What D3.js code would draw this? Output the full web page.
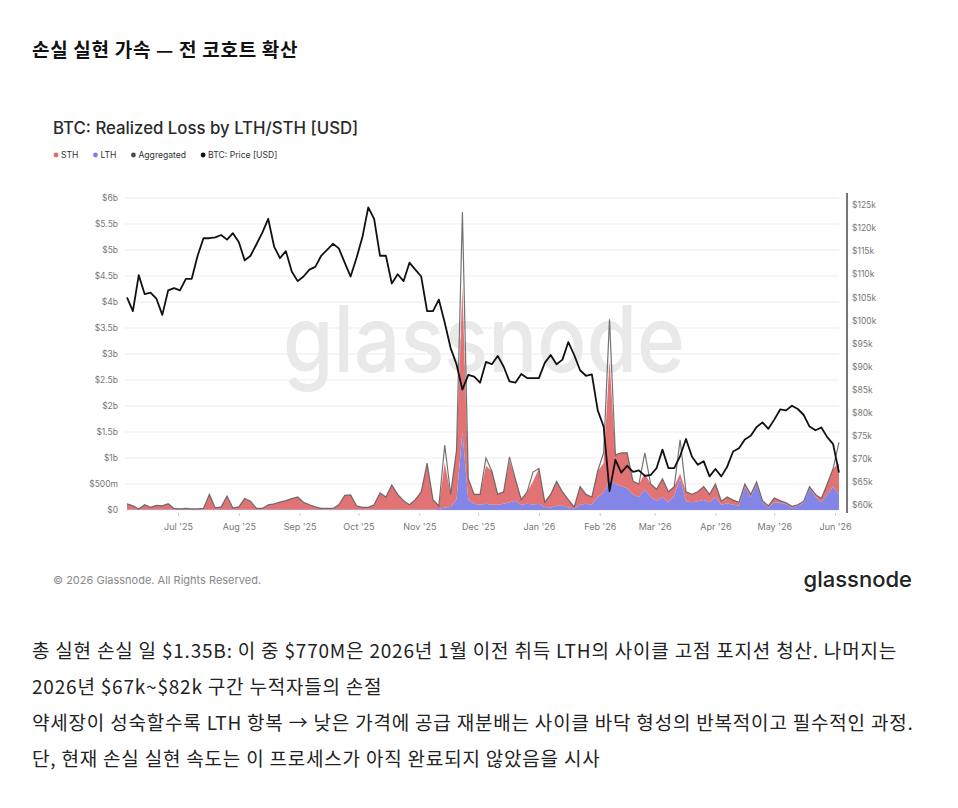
<!DOCTYPE html>
<html>
<head>
<meta charset="utf-8">
<script src="https://cdn.jsdelivr.net/npm/d3@7"></script>
<style>
  body { margin: 0; background: #fff; }
  svg text { font-family: Inter, "Noto Sans", sans-serif; }
  svg .kr { font-family: "Noto Sans CJK KR", sans-serif; }
</style>
</head>
<body>
<svg id="chart"></svg>
<script>
// ---- data ----
var startDay = "2025-06-05";   // first sample, one sample every 3 days
var stepDays = 3;

// BTC price, $k
var price = [105, 102, 109.8, 105.7, 106, 104.7, 101.2, 106.5, 107, 106.5,
  109, 109, 114, 117.8, 117.8, 118, 118.5, 117.5, 118.9, 117,
  113, 114, 116.5, 119, 122, 116, 113.5, 115, 110.6, 108.5,
  109.5, 111, 111.6, 114, 115.3, 116.6, 115.6, 112.5, 109.5, 113.5,
  118, 124.5, 122, 114, 114, 108, 110, 108.5, 112.5, 111,
  109.5, 102, 102, 104.5, 99.5, 94, 90.5, 85, 88.2, 87.8,
  86.5, 91, 90.5, 92.3, 90, 86.8, 86.5, 88.4, 87.5, 87.5,
  87.5, 90.8, 92.5, 90.5, 91.5, 95.3, 92.5, 89.2, 88, 88.3,
  80.5, 77, 63, 69.8, 67, 68.5, 67.2, 67.5, 66.3, 66.5,
  68, 72, 68, 68, 70.6, 74.3, 70.5, 68.7, 69.5, 66.2,
  67.8, 66.2, 68.3, 71.6, 72.3, 74.2, 75, 76.9, 77.9, 76.5,
  78.5, 80.7, 80.5, 81.5, 80.8, 79.5, 77, 76.2, 76.8, 74.7,
  73.2, 67];

// realized loss, $b
var lthLoss = [0.01, 0.01, 0.01, 0.01, 0.01, 0.01, 0.01, 0.01, 0.01, 0.01,
  0.01, 0.01, 0.01, 0.01, 0.01, 0.01, 0.01, 0.01, 0.01, 0.01,
  0.01, 0.01, 0.01, 0.01, 0.01, 0.01, 0.01, 0.01, 0.01, 0.01,
  0.01, 0.01, 0.01, 0.01, 0.01, 0.01, 0.01, 0.01, 0.01, 0.01,
  0.01, 0.01, 0.01, 0.01, 0.01, 0.01, 0.01, 0.01, 0.01, 0.01,
  0.01, 0.01, 0.01, 0.02, 0.05, 0.06, 0.2, 1.5, 0.2, 0.12,
  0.1, 0.12, 0.1, 0.1, 0.12, 0.15, 0.18, 0.1, 0.12, 0.1,
  0.12, 0.06, 0.05, 0.08, 0.08, 0.05, 0.03, 0.1, 0.12, 0.1,
  0.25, 0.33, 0.58, 0.5, 0.46, 0.42, 0.3, 0.25, 0.4, 0.25,
  0.18, 0.25, 0.15, 0.28, 0.6, 0.17, 0.15, 0.17, 0.19, 0.15,
  0.25, 0.1, 0.13, 0.1, 0.08, 0.45, 0.25, 0.5, 0.15, 0.05,
  0.15, 0.14, 0.11, 0.05, 0.08, 0.14, 0.42, 0.26, 0.15, 0.3,
  0.45, 0.3];

var sthLoss = [0.11, 0.07, 0.01, 0.09, 0.04, 0.08, 0.07, 0.11, 0.02, 0.01,
  0.02, 0.01, 0.01, 0.02, 0.29, 0.03, 0.05, 0.26, 0.03, 0.05,
  0.21, 0.16, 0.02, 0.02, 0.09, 0.11, 0.14, 0.17, 0.21, 0.24,
  0.14, 0.09, 0.05, 0.02, 0.02, 0.02, 0.09, 0.27, 0.28, 0.07,
  0.04, 0.04, 0.09, 0.32, 0.24, 0.47, 0.29, 0.17, 0.09, 0.19,
  0.34, 0.89, 0.19, 0.06, 0.85, 0.24, 0.95, 2.79, 0.4, 0.18,
  0.2, 0.73, 0.65, 0.2, 0.23, 0.8, 0.42, 0.1, 0.23, 0.45,
  0.68, 0.09, 0.25, 0.47, 0.27, 0.15, 0.03, 0.35, 0.18, 0.15,
  0.5, 0.57, 2.3, 0.56, 0.64, 0.68, 0.25, 0.25, 0.3, 0.25,
  0.22, 0.35, 0.2, 0.17, 0.1, 0.18, 0.15, 0.18, 0.26, 0.15,
  0.25, 0.07, 0.12, 0.09, 0.07, 0.05, 0.05, 0.04, 0.03, 0.03,
  0.08, 0.04, 0.03, 0.02, 0.02, 0.03, 0.03, 0.04, 0.07, 0.2,
  0.35, 0.6];

var aggLoss = [0.12, 0.08, 0.02, 0.1, 0.05, 0.09, 0.08, 0.12, 0.03, 0.02,
  0.03, 0.02, 0.02, 0.03, 0.3, 0.04, 0.06, 0.27, 0.04, 0.06,
  0.22, 0.17, 0.03, 0.03, 0.1, 0.12, 0.15, 0.18, 0.22, 0.25,
  0.15, 0.1, 0.06, 0.03, 0.03, 0.03, 0.1, 0.28, 0.29, 0.08,
  0.05, 0.05, 0.1, 0.33, 0.25, 0.48, 0.3, 0.18, 0.1, 0.2,
  0.35, 0.9, 0.2, 0.08, 1.25, 0.3, 1.15, 5.73, 0.6, 0.3,
  0.3, 1.0, 0.75, 0.3, 0.35, 1.02, 0.6, 0.2, 0.35, 0.73,
  0.8, 0.15, 0.3, 0.55, 0.35, 0.2, 0.06, 0.45, 0.3, 0.25,
  0.75, 1.1, 3.67, 1.06, 1.1, 1.1, 0.55, 0.5, 1.1, 0.5,
  0.4, 0.6, 0.35, 0.45, 1.35, 0.35, 0.3, 0.35, 0.45, 0.3,
  0.5, 0.17, 0.25, 0.19, 0.15, 0.5, 0.3, 0.54, 0.18, 0.08,
  0.23, 0.18, 0.14, 0.07, 0.1, 0.17, 0.45, 0.3, 0.22, 0.5,
  0.8, 1.3];

var lossTicks = [0, 0.5, 1, 1.5, 2, 2.5, 3, 3.5, 4, 4.5, 5, 5.5, 6];
var priceTicks = [60, 65, 70, 75, 80, 85, 90, 95, 100, 105, 110, 115, 120, 125];

var legendItems = [
  { name: "STH", color: "#e06c6e" },
  { name: "LTH", color: "#7c80e6" },
  { name: "Aggregated", color: "#4a4a4a" },
  { name: "BTC: Price [USD]", color: "#111" }
];

var pageTitle = "손실 실현 가속 — 전 코호트 확산";
var chartTitle = "BTC: Realized Loss by LTH/STH [USD]";
var bodyLines = [
  "총 실현 손실 일 $1.35B: 이 중 $770M은 2026년 1월 이전 취득 LTH의 사이클 고점 포지션 청산. 나머지는",
  "2026년 $67k~$82k 구간 누적자들의 손절",
  "약세장이 성숙할수록 LTH 항복 → 낮은 가격에 공급 재분배는 사이클 바닥 형성의 반복적이고 필수적인 과정.",
  "단, 현재 손실 실현 속도는 이 프로세스가 아직 완료되지 않았음을 시사"
];

// ---- build rows ----
var t0 = d3.utcParse("%Y-%m-%d")(startDay);
var rows = price.map(function (p, i) {
  return {
    date: d3.utcDay.offset(t0, i * stepDays),
    price: p,
    lth: lthLoss[i],
    sth: sthLoss[i],
    agg: aggLoss[i]
  };
});

var width = 958, height = 808;
var plot = { left: 127, right: 839, top: 198, bottom: 510 };

var svg = d3.select("#chart")
  .attr("width", width)
  .attr("height", height);

svg.append("rect").attr("width", width).attr("height", height).attr("fill", "#fff");

// page title
svg.append("text")
  .attr("class", "kr")
  .attr("x", 32).attr("y", 57)
  .attr("font-size", 19).attr("font-weight", 700)
  .attr("letter-spacing", 0.7)
  .attr("fill", "#111")
  .text(pageTitle);

// chart title + legend
svg.append("text")
  .attr("x", 53).attr("y", 134)
  .attr("font-size", 16.8).attr("font-weight", 500)
  .attr("fill", "#2a2a2a")
  .text(chartTitle);

var legend = svg.append("g").attr("transform", "translate(56,155)");
var lx = 0;
legendItems.forEach(function (d) {
  var g = legend.append("g").attr("transform", "translate(" + lx + ",0)");
  g.append("circle").attr("r", 2.4).attr("fill", d.color);
  var t = g.append("text")
    .attr("x", 5).attr("y", 3.2)
    .attr("font-size", 8.6).attr("fill", "#333")
    .text(d.name);
  lx += 5 + t.node().getComputedTextLength() + 17;
});

// scales
var x = d3.scaleUtc()
  .domain([rows[0].date, rows[rows.length - 1].date])
  .range([plot.left, plot.right]);

var yL = d3.scaleLinear().domain([0, 6]).range([plot.bottom, plot.top]);
var yR = d3.scaleLinear().domain([60, 125]).range([505, 205]);

// gridlines
svg.append("g")
  .selectAll("line")
  .data(lossTicks)
  .enter().append("line")
  .attr("x1", plot.left - 2).attr("x2", plot.right)
  .attr("y1", function (d) { return yL(d); })
  .attr("y2", function (d) { return yL(d); })
  .attr("stroke", "#ededed").attr("stroke-width", 1);

// watermark
svg.append("text")
  .attr("x", 283).attr("y", 372)
  .attr("font-size", 92).attr("font-weight", 500)
  .attr("textLength", 402).attr("lengthAdjust", "spacingAndGlyphs")
  .attr("fill", "#e9e9e9")
  .text("glassnode");

// left axis
var fmtLoss = function (v) {
  if (v === 0) return "$0";
  if (v < 1) return "$" + Math.round(v * 1000) + "m";
  return "$" + v + "b";
};
var gL = svg.append("g")
  .attr("transform", "translate(118,0)")
  .call(d3.axisLeft(yL).tickValues(lossTicks).tickFormat(fmtLoss).tickSize(0).tickPadding(0));
gL.select(".domain").remove();
gL.selectAll("text").attr("font-size", 8.5).attr("fill", "#777").attr("font-family", "Inter, sans-serif");

// right axis
var gR = svg.append("g")
  .attr("transform", "translate(852,0)")
  .call(d3.axisRight(yR).tickValues(priceTicks).tickFormat(function (v) { return "$" + v + "k"; }).tickSize(0).tickPadding(0));
gR.select(".domain").remove();
gR.selectAll("text").attr("font-size", 8.5).attr("fill", "#777").attr("font-family", "Inter, sans-serif");

svg.append("line")
  .attr("x1", 847).attr("x2", 847).attr("y1", 193).attr("y2", 513)
  .attr("stroke", "#555").attr("stroke-width", 1.6);

// x axis
var gX = svg.append("g")
  .attr("transform", "translate(0," + (plot.bottom + 3) + ")")
  .call(d3.axisBottom(x)
    .ticks(d3.utcMonth.every(1))
    .tickFormat(d3.utcFormat("%b '%y"))
    .tickSize(3).tickPadding(8));
gX.select(".domain").remove();
gX.selectAll("line").attr("stroke", "#ccc");
gX.selectAll("text").attr("font-size", 9).attr("fill", "#777").attr("font-family", "Inter, sans-serif");

// stacked loss areas: LTH bottom, STH on top
var stack = d3.stack().keys(["lth", "sth"]);
var series = stack(rows);
var area = d3.area()
  .x(function (d) { return x(d.data.date); })
  .y0(function (d) { return yL(d[0]); })
  .y1(function (d) { return yL(d[1]); });

var colors = { lth: "#7c80e6", sth: "#e06c6e" };
svg.append("g")
  .selectAll("path")
  .data(series)
  .enter().append("path")
  .attr("d", area)
  .attr("fill", function (d) { return colors[d.key]; })
  .attr("fill-opacity", 0.95);

// aggregated line
var aggLine = d3.line()
  .x(function (d) { return x(d.date); })
  .y(function (d) { return yL(d.agg); });
svg.append("path")
  .datum(rows)
  .attr("d", aggLine)
  .attr("fill", "none")
  .attr("stroke", "#5a5a5a")
  .attr("stroke-opacity", 0.85)
  .attr("stroke-width", 1.2);

// price line
var priceLine = d3.line()
  .x(function (d) { return x(d.date); })
  .y(function (d) { return yR(d.price); });
svg.append("path")
  .datum(rows)
  .attr("d", priceLine)
  .attr("fill", "none")
  .attr("stroke", "#111")
  .attr("stroke-width", 1.8)
  .attr("stroke-linejoin", "round");

// footer
svg.append("text")
  .attr("x", 53).attr("y", 584)
  .attr("font-size", 11).attr("fill", "#888")
  .text("© 2026 Glassnode. All Rights Reserved.");

svg.append("text")
  .attr("x", 912).attr("y", 587)
  .attr("text-anchor", "end")
  .attr("font-size", 22).attr("font-weight", 500)
  .attr("fill", "#222")
  .text("glassnode");

// body text
svg.append("g")
  .selectAll("text")
  .data(bodyLines)
  .enter().append("text")
  .attr("class", "kr")
  .attr("x", 32)
  .attr("y", function (d, i) { return 658 + i * 36; })
  .attr("font-size", 19)
  .attr("letter-spacing", 0.8)
  .attr("fill", "#222")
  .text(function (d) { return d; });
</script>
</body>
</html>
